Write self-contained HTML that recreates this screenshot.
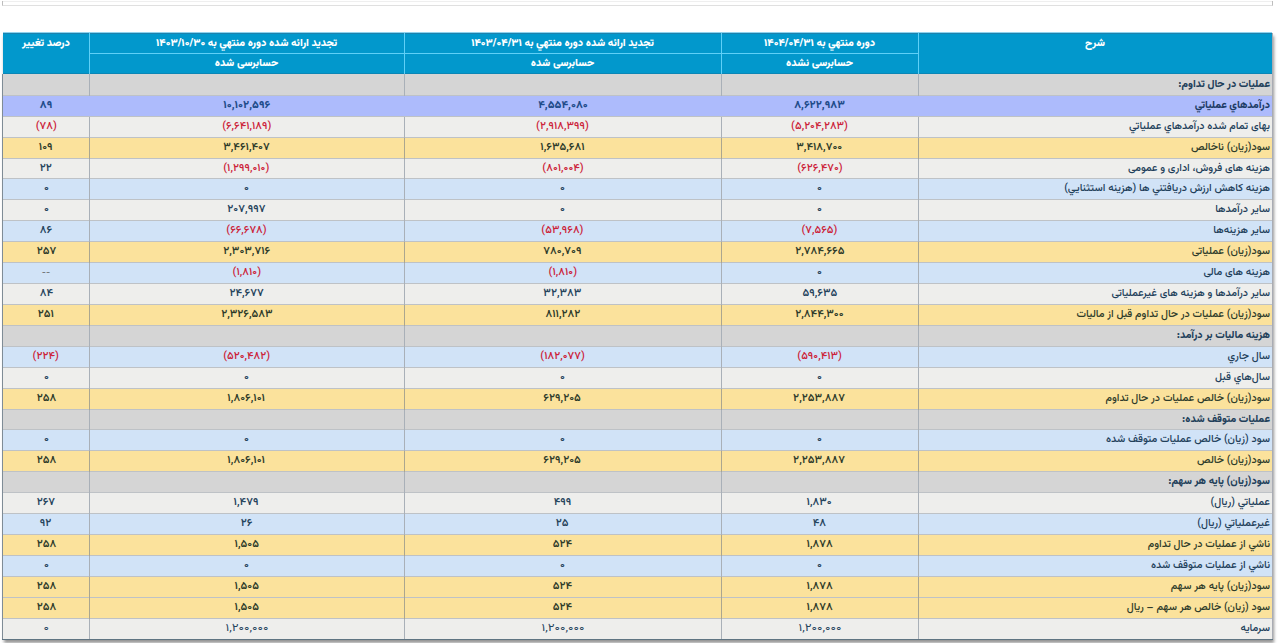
<!DOCTYPE html><html lang="fa" dir="rtl"><head><meta charset="utf-8"><title>صورت سود و زیان</title><style>

*{box-sizing:border-box;margin:0;padding:0}
html,body{width:1280px;height:643px;overflow:hidden;background:#fff}
body{position:relative;font-family:"Vazirmatn","DejaVu Sans",sans-serif;direction:rtl}
.a{position:absolute}
.top1{left:2px;top:1px;width:1271px;height:5px;border-left:1px solid #bdbdbd;border-right:1px solid #bdbdbd;border-bottom:1px solid #e0e0e0}
.top2{left:3px;top:1px;width:1269px;height:1px;background:#efefef}
.shadow{left:3px;top:33px;width:1270px;height:607px;box-shadow:1px 3px 3px rgba(0,0,0,.42)}
.hdrbg{left:3px;top:32px;width:1269px;height:42px;background:#0298cc;border-top:1px solid #8fd3ee}
.htop{left:3px;top:33px;width:1269px;height:1px;background:#1d82ad}
.h{color:#fff;font-weight:900;font-size:10.55px;text-align:center;white-space:nowrap;height:21px;line-height:21px}
.h1{padding-top:1px}
.hl1{background:#5fd0f7}
.r{left:3px;width:1269px}
.c{text-align:center;white-space:nowrap;font-size:10.8px}
.c span{position:relative;top:0}
.lab{text-align:right;padding-right:2px;font-weight:500;font-size:10.7px}
.c.n span{display:inline-block;transform:scaleX(1.035)}
.last .c.n span{transform:scaleX(1.2);font-weight:450}
.c.n span.dash{transform:none;font-weight:400;font-size:9px;color:#555}
.vl{width:1px;background:#aab2ba}
.hs{left:3px;width:1269px;height:1px;background:#bec2c6}
.sec{background:#d5d5d5}
.hl{background:#adbbfc}
.g{background:#eeeeec}
.y{background:#fbe29c}
.b{background:#d1e3f7}
.t{color:#22405a}
.y .t,.y .n{color:#2e3b2a}
.hl .t{color:#1d3c66}
.n{color:#26445c;font-weight:600}
.hl .n{color:#1f4c8a;font-weight:800}
.n.neg{color:#cc2238;font-weight:550}
.lab.bold{font-weight:850;font-size:10.5px}

</style></head><body>
<div class="a top1"></div><div class="a top2"></div>
<div class="a shadow"></div>
<div class="a hdrbg"></div><div class="a htop"></div>
<div class="a h h1" style="left:3px;top:32px;width:86px">درصد تغییر</div>
<div class="a h h1" style="left:89px;top:32px;width:315px">تجدید ارائه شده دوره منتهي به ۱۴۰۳/۱۰/۳۰</div>
<div class="a h" style="left:89px;top:53px;width:315px">حسابرسی شده</div>
<div class="a h h1" style="left:404px;top:32px;width:317px">تجدید ارائه شده دوره منتهي به ۱۴۰۳/۰۴/۳۱</div>
<div class="a h" style="left:404px;top:53px;width:317px">حسابرسی شده</div>
<div class="a h h1" style="left:721px;top:32px;width:197px">دوره منتهي به ۱۴۰۴/۰۴/۳۱</div>
<div class="a h" style="left:721px;top:53px;width:197px">حسابرسی نشده</div>
<div class="a h h1" style="left:918px;top:32px;width:354px">شرح</div>
<div class="a hl1" style="left:89px;top:53px;width:829px;height:1px"></div>
<div class="a" style="left:3px;top:73px;width:1269px;height:1px;background:#0a86b6"></div>
<div class="a hl1" style="left:89px;top:33px;width:1px;height:41px"></div>
<div class="a hl1" style="left:404px;top:33px;width:1px;height:41px"></div>
<div class="a hl1" style="left:721px;top:33px;width:1px;height:41px"></div>
<div class="a hl1" style="left:918px;top:33px;width:1px;height:41px"></div>
<div class="a r sec" style="top:74px;height:21px;line-height:21px">
<div class="a c lab t bold" style="left:916px;width:353px"><span>عملیات در حال تداوم:</span></div>
</div>
<div class="a r hl" style="top:96px;height:20px;line-height:20px">
<div class="a c lab t bold" style="left:916px;width:353px"><span>درآمدهاي عملياتي</span></div>
<div class="a c n" style="left:718px;width:197px"><span>۸,۶۲۲,۹۸۳</span></div>
<div class="a c n" style="left:401px;width:317px"><span>۴,۵۵۴,۰۸۰</span></div>
<div class="a c n" style="left:86px;width:315px"><span>۱۰,۱۰۲,۵۹۶</span></div>
<div class="a c n" style="left:0px;width:86px"><span>۸۹</span></div>
</div>
<div class="a r g" style="top:117px;height:20px;line-height:20px">
<div class="a c lab t" style="left:916px;width:353px"><span>بهای تمام شده درآمدهاي عملياتي</span></div>
<div class="a c n neg" style="left:718px;width:197px"><span>(۵,۲۰۴,۲۸۳)</span></div>
<div class="a c n neg" style="left:401px;width:317px"><span>(۲,۹۱۸,۳۹۹)</span></div>
<div class="a c n neg" style="left:86px;width:315px"><span>(۶,۶۴۱,۱۸۹)</span></div>
<div class="a c n neg" style="left:0px;width:86px"><span>(۷۸)</span></div>
</div>
<div class="a r y" style="top:138px;height:20px;line-height:20px">
<div class="a c lab t" style="left:916px;width:353px"><span>سود(زيان) ناخالص</span></div>
<div class="a c n" style="left:718px;width:197px"><span>۳,۴۱۸,۷۰۰</span></div>
<div class="a c n" style="left:401px;width:317px"><span>۱,۶۳۵,۶۸۱</span></div>
<div class="a c n" style="left:86px;width:315px"><span>۳,۴۶۱,۴۰۷</span></div>
<div class="a c n" style="left:0px;width:86px"><span>۱۰۹</span></div>
</div>
<div class="a r g" style="top:159px;height:19px;line-height:19px">
<div class="a c lab t" style="left:916px;width:353px"><span>هزينه های فروش، اداری و عمومی</span></div>
<div class="a c n neg" style="left:718px;width:197px"><span>(۶۲۶,۴۷۰)</span></div>
<div class="a c n neg" style="left:401px;width:317px"><span>(۸۰۱,۰۰۴)</span></div>
<div class="a c n neg" style="left:86px;width:315px"><span>(۱,۲۹۹,۰۱۰)</span></div>
<div class="a c n" style="left:0px;width:86px"><span>۲۲</span></div>
</div>
<div class="a r b" style="top:179px;height:20px;line-height:20px">
<div class="a c lab t" style="left:916px;width:353px"><span>هزينه کاهش ارزش دريافتني ها (هزينه استثنايي)</span></div>
<div class="a c n" style="left:718px;width:197px"><span>۰</span></div>
<div class="a c n" style="left:401px;width:317px"><span>۰</span></div>
<div class="a c n" style="left:86px;width:315px"><span>۰</span></div>
<div class="a c n" style="left:0px;width:86px"><span>۰</span></div>
</div>
<div class="a r g" style="top:200px;height:20px;line-height:20px">
<div class="a c lab t" style="left:916px;width:353px"><span>ساير درآمدها</span></div>
<div class="a c n" style="left:718px;width:197px"><span>۰</span></div>
<div class="a c n" style="left:401px;width:317px"><span>۰</span></div>
<div class="a c n" style="left:86px;width:315px"><span>۲۰۷,۹۹۷</span></div>
<div class="a c n" style="left:0px;width:86px"><span>۰</span></div>
</div>
<div class="a r b" style="top:221px;height:20px;line-height:20px">
<div class="a c lab t" style="left:916px;width:353px"><span>ساير هزينه‌ها</span></div>
<div class="a c n neg" style="left:718px;width:197px"><span>(۷,۵۶۵)</span></div>
<div class="a c n neg" style="left:401px;width:317px"><span>(۵۳,۹۶۸)</span></div>
<div class="a c n neg" style="left:86px;width:315px"><span>(۶۶,۶۷۸)</span></div>
<div class="a c n" style="left:0px;width:86px"><span>۸۶</span></div>
</div>
<div class="a r y" style="top:242px;height:20px;line-height:20px">
<div class="a c lab t" style="left:916px;width:353px"><span>سود(زيان) عملیاتی</span></div>
<div class="a c n" style="left:718px;width:197px"><span>۲,۷۸۴,۶۶۵</span></div>
<div class="a c n" style="left:401px;width:317px"><span>۷۸۰,۷۰۹</span></div>
<div class="a c n" style="left:86px;width:315px"><span>۲,۳۰۳,۷۱۶</span></div>
<div class="a c n" style="left:0px;width:86px"><span>۲۵۷</span></div>
</div>
<div class="a r b" style="top:263px;height:20px;line-height:20px">
<div class="a c lab t" style="left:916px;width:353px"><span>هزينه های مالی</span></div>
<div class="a c n" style="left:718px;width:197px"><span>۰</span></div>
<div class="a c n neg" style="left:401px;width:317px"><span>(۱,۸۱۰)</span></div>
<div class="a c n neg" style="left:86px;width:315px"><span>(۱,۸۱۰)</span></div>
<div class="a c n" style="left:0px;width:86px"><span class="dash">--</span></div>
</div>
<div class="a r g" style="top:284px;height:20px;line-height:20px">
<div class="a c lab t" style="left:916px;width:353px"><span>ساير درآمدها و هزينه های غيرعملیاتی</span></div>
<div class="a c n" style="left:718px;width:197px"><span>۵۹,۶۳۵</span></div>
<div class="a c n" style="left:401px;width:317px"><span>۳۲,۳۸۳</span></div>
<div class="a c n" style="left:86px;width:315px"><span>۲۴,۶۷۷</span></div>
<div class="a c n" style="left:0px;width:86px"><span>۸۴</span></div>
</div>
<div class="a r y" style="top:305px;height:20px;line-height:20px">
<div class="a c lab t" style="left:916px;width:353px"><span>سود(زيان) عمليات در حال تداوم قبل از ماليات</span></div>
<div class="a c n" style="left:718px;width:197px"><span>۲,۸۴۴,۳۰۰</span></div>
<div class="a c n" style="left:401px;width:317px"><span>۸۱۱,۲۸۲</span></div>
<div class="a c n" style="left:86px;width:315px"><span>۲,۳۲۶,۵۸۳</span></div>
<div class="a c n" style="left:0px;width:86px"><span>۲۵۱</span></div>
</div>
<div class="a r sec" style="top:326px;height:20px;line-height:20px">
<div class="a c lab t bold" style="left:916px;width:353px"><span>هزينه ماليات بر درآمد:</span></div>
</div>
<div class="a r b" style="top:347px;height:20px;line-height:20px">
<div class="a c lab t" style="left:916px;width:353px"><span>سال جاري</span></div>
<div class="a c n neg" style="left:718px;width:197px"><span>(۵۹۰,۴۱۳)</span></div>
<div class="a c n neg" style="left:401px;width:317px"><span>(۱۸۲,۰۷۷)</span></div>
<div class="a c n neg" style="left:86px;width:315px"><span>(۵۲۰,۴۸۲)</span></div>
<div class="a c n neg" style="left:0px;width:86px"><span>(۲۲۴)</span></div>
</div>
<div class="a r g" style="top:368px;height:20px;line-height:20px">
<div class="a c lab t" style="left:916px;width:353px"><span>سال‌هاي قبل</span></div>
<div class="a c n" style="left:718px;width:197px"><span>۰</span></div>
<div class="a c n" style="left:401px;width:317px"><span>۰</span></div>
<div class="a c n" style="left:86px;width:315px"><span>۰</span></div>
<div class="a c n" style="left:0px;width:86px"><span>۰</span></div>
</div>
<div class="a r y" style="top:389px;height:20px;line-height:20px">
<div class="a c lab t" style="left:916px;width:353px"><span>سود(زيان) خالص عمليات در حال تداوم</span></div>
<div class="a c n" style="left:718px;width:197px"><span>۲,۲۵۳,۸۸۷</span></div>
<div class="a c n" style="left:401px;width:317px"><span>۶۲۹,۲۰۵</span></div>
<div class="a c n" style="left:86px;width:315px"><span>۱,۸۰۶,۱۰۱</span></div>
<div class="a c n" style="left:0px;width:86px"><span>۲۵۸</span></div>
</div>
<div class="a r sec" style="top:410px;height:19px;line-height:19px">
<div class="a c lab t bold" style="left:916px;width:353px"><span>عمليات متوقف شده:</span></div>
</div>
<div class="a r b" style="top:430px;height:20px;line-height:20px">
<div class="a c lab t" style="left:916px;width:353px"><span>سود (زيان) خالص عمليات متوقف شده</span></div>
<div class="a c n" style="left:718px;width:197px"><span>۰</span></div>
<div class="a c n" style="left:401px;width:317px"><span>۰</span></div>
<div class="a c n" style="left:86px;width:315px"><span>۰</span></div>
<div class="a c n" style="left:0px;width:86px"><span>۰</span></div>
</div>
<div class="a r y" style="top:451px;height:20px;line-height:20px">
<div class="a c lab t" style="left:916px;width:353px"><span>سود(زيان) خالص</span></div>
<div class="a c n" style="left:718px;width:197px"><span>۲,۲۵۳,۸۸۷</span></div>
<div class="a c n" style="left:401px;width:317px"><span>۶۲۹,۲۰۵</span></div>
<div class="a c n" style="left:86px;width:315px"><span>۱,۸۰۶,۱۰۱</span></div>
<div class="a c n" style="left:0px;width:86px"><span>۲۵۸</span></div>
</div>
<div class="a r sec" style="top:472px;height:20px;line-height:20px">
<div class="a c lab t bold" style="left:916px;width:353px"><span>سود(زيان) پايه هر سهم:</span></div>
</div>
<div class="a r g" style="top:493px;height:20px;line-height:20px">
<div class="a c lab t" style="left:916px;width:353px"><span>عملياتي (ريال)</span></div>
<div class="a c n" style="left:718px;width:197px"><span>۱,۸۳۰</span></div>
<div class="a c n" style="left:401px;width:317px"><span>۴۹۹</span></div>
<div class="a c n" style="left:86px;width:315px"><span>۱,۴۷۹</span></div>
<div class="a c n" style="left:0px;width:86px"><span>۲۶۷</span></div>
</div>
<div class="a r b" style="top:514px;height:20px;line-height:20px">
<div class="a c lab t" style="left:916px;width:353px"><span>غيرعملياتي (ريال)</span></div>
<div class="a c n" style="left:718px;width:197px"><span>۴۸</span></div>
<div class="a c n" style="left:401px;width:317px"><span>۲۵</span></div>
<div class="a c n" style="left:86px;width:315px"><span>۲۶</span></div>
<div class="a c n" style="left:0px;width:86px"><span>۹۲</span></div>
</div>
<div class="a r y" style="top:535px;height:20px;line-height:20px">
<div class="a c lab t" style="left:916px;width:353px"><span>ناشي از عمليات در حال تداوم</span></div>
<div class="a c n" style="left:718px;width:197px"><span>۱,۸۷۸</span></div>
<div class="a c n" style="left:401px;width:317px"><span>۵۲۴</span></div>
<div class="a c n" style="left:86px;width:315px"><span>۱,۵۰۵</span></div>
<div class="a c n" style="left:0px;width:86px"><span>۲۵۸</span></div>
</div>
<div class="a r b" style="top:556px;height:20px;line-height:20px">
<div class="a c lab t" style="left:916px;width:353px"><span>ناشي از عمليات متوقف شده</span></div>
<div class="a c n" style="left:718px;width:197px"><span>۰</span></div>
<div class="a c n" style="left:401px;width:317px"><span>۰</span></div>
<div class="a c n" style="left:86px;width:315px"><span>۰</span></div>
<div class="a c n" style="left:0px;width:86px"><span>۰</span></div>
</div>
<div class="a r y" style="top:577px;height:20px;line-height:20px">
<div class="a c lab t" style="left:916px;width:353px"><span>سود(زيان) پايه هر سهم</span></div>
<div class="a c n" style="left:718px;width:197px"><span>۱,۸۷۸</span></div>
<div class="a c n" style="left:401px;width:317px"><span>۵۲۴</span></div>
<div class="a c n" style="left:86px;width:315px"><span>۱,۵۰۵</span></div>
<div class="a c n" style="left:0px;width:86px"><span>۲۵۸</span></div>
</div>
<div class="a r y" style="top:598px;height:20px;line-height:20px">
<div class="a c lab t" style="left:916px;width:353px"><span>سود (زيان) خالص هر سهم – ريال</span></div>
<div class="a c n" style="left:718px;width:197px"><span>۱,۸۷۸</span></div>
<div class="a c n" style="left:401px;width:317px"><span>۵۲۴</span></div>
<div class="a c n" style="left:86px;width:315px"><span>۱,۵۰۵</span></div>
<div class="a c n" style="left:0px;width:86px"><span>۲۵۸</span></div>
</div>
<div class="a r g last" style="top:619px;height:20px;line-height:20px">
<div class="a c lab t" style="left:916px;width:353px"><span>سرمايه</span></div>
<div class="a c n" style="left:718px;width:197px"><span>۱,۲۰۰,۰۰۰</span></div>
<div class="a c n" style="left:401px;width:317px"><span>۱,۲۰۰,۰۰۰</span></div>
<div class="a c n" style="left:86px;width:315px"><span>۱,۲۰۰,۰۰۰</span></div>
<div class="a c n" style="left:0px;width:86px"><span>۰</span></div>
</div>
<div class="a hs" style="top:95px"></div>
<div class="a hs" style="top:116px"></div>
<div class="a hs" style="top:137px"></div>
<div class="a hs" style="top:158px"></div>
<div class="a hs" style="top:178px"></div>
<div class="a hs" style="top:199px"></div>
<div class="a hs" style="top:220px"></div>
<div class="a hs" style="top:241px"></div>
<div class="a hs" style="top:262px"></div>
<div class="a hs" style="top:283px"></div>
<div class="a hs" style="top:304px"></div>
<div class="a hs" style="top:325px"></div>
<div class="a hs" style="top:346px"></div>
<div class="a hs" style="top:367px"></div>
<div class="a hs" style="top:388px"></div>
<div class="a hs" style="top:409px"></div>
<div class="a hs" style="top:429px"></div>
<div class="a hs" style="top:450px"></div>
<div class="a hs" style="top:471px"></div>
<div class="a hs" style="top:492px"></div>
<div class="a hs" style="top:513px"></div>
<div class="a hs" style="top:534px"></div>
<div class="a hs" style="top:555px"></div>
<div class="a hs" style="top:576px"></div>
<div class="a hs" style="top:597px"></div>
<div class="a hs" style="top:618px"></div>
<div class="a vl" style="left:89px;top:74px;height:22px;background:#a9b0b8"></div>
<div class="a vl" style="left:404px;top:74px;height:22px;background:#a9b0b8"></div>
<div class="a vl" style="left:721px;top:74px;height:22px;background:#a9b0b8"></div>
<div class="a vl" style="left:918px;top:74px;height:22px;background:#a9b0b8"></div>
<div class="a vl" style="left:89px;top:117px;height:21px;background:#a9b0b8"></div>
<div class="a vl" style="left:404px;top:117px;height:21px;background:#a9b0b8"></div>
<div class="a vl" style="left:721px;top:117px;height:21px;background:#a9b0b8"></div>
<div class="a vl" style="left:918px;top:117px;height:21px;background:#a9b0b8"></div>
<div class="a vl" style="left:89px;top:138px;height:21px;background:#aba68f"></div>
<div class="a vl" style="left:404px;top:138px;height:21px;background:#aba68f"></div>
<div class="a vl" style="left:721px;top:138px;height:21px;background:#aba68f"></div>
<div class="a vl" style="left:918px;top:138px;height:21px;background:#aba68f"></div>
<div class="a vl" style="left:89px;top:159px;height:20px;background:#a9b0b8"></div>
<div class="a vl" style="left:404px;top:159px;height:20px;background:#a9b0b8"></div>
<div class="a vl" style="left:721px;top:159px;height:20px;background:#a9b0b8"></div>
<div class="a vl" style="left:918px;top:159px;height:20px;background:#a9b0b8"></div>
<div class="a vl" style="left:89px;top:179px;height:21px;background:#a9b0b8"></div>
<div class="a vl" style="left:404px;top:179px;height:21px;background:#a9b0b8"></div>
<div class="a vl" style="left:721px;top:179px;height:21px;background:#a9b0b8"></div>
<div class="a vl" style="left:918px;top:179px;height:21px;background:#a9b0b8"></div>
<div class="a vl" style="left:89px;top:200px;height:21px;background:#a9b0b8"></div>
<div class="a vl" style="left:404px;top:200px;height:21px;background:#a9b0b8"></div>
<div class="a vl" style="left:721px;top:200px;height:21px;background:#a9b0b8"></div>
<div class="a vl" style="left:918px;top:200px;height:21px;background:#a9b0b8"></div>
<div class="a vl" style="left:89px;top:221px;height:21px;background:#a9b0b8"></div>
<div class="a vl" style="left:404px;top:221px;height:21px;background:#a9b0b8"></div>
<div class="a vl" style="left:721px;top:221px;height:21px;background:#a9b0b8"></div>
<div class="a vl" style="left:918px;top:221px;height:21px;background:#a9b0b8"></div>
<div class="a vl" style="left:89px;top:242px;height:21px;background:#aba68f"></div>
<div class="a vl" style="left:404px;top:242px;height:21px;background:#aba68f"></div>
<div class="a vl" style="left:721px;top:242px;height:21px;background:#aba68f"></div>
<div class="a vl" style="left:918px;top:242px;height:21px;background:#aba68f"></div>
<div class="a vl" style="left:89px;top:263px;height:21px;background:#a9b0b8"></div>
<div class="a vl" style="left:404px;top:263px;height:21px;background:#a9b0b8"></div>
<div class="a vl" style="left:721px;top:263px;height:21px;background:#a9b0b8"></div>
<div class="a vl" style="left:918px;top:263px;height:21px;background:#a9b0b8"></div>
<div class="a vl" style="left:89px;top:284px;height:21px;background:#a9b0b8"></div>
<div class="a vl" style="left:404px;top:284px;height:21px;background:#a9b0b8"></div>
<div class="a vl" style="left:721px;top:284px;height:21px;background:#a9b0b8"></div>
<div class="a vl" style="left:918px;top:284px;height:21px;background:#a9b0b8"></div>
<div class="a vl" style="left:89px;top:305px;height:21px;background:#aba68f"></div>
<div class="a vl" style="left:404px;top:305px;height:21px;background:#aba68f"></div>
<div class="a vl" style="left:721px;top:305px;height:21px;background:#aba68f"></div>
<div class="a vl" style="left:918px;top:305px;height:21px;background:#aba68f"></div>
<div class="a vl" style="left:89px;top:326px;height:21px;background:#a9b0b8"></div>
<div class="a vl" style="left:404px;top:326px;height:21px;background:#a9b0b8"></div>
<div class="a vl" style="left:721px;top:326px;height:21px;background:#a9b0b8"></div>
<div class="a vl" style="left:918px;top:326px;height:21px;background:#a9b0b8"></div>
<div class="a vl" style="left:89px;top:347px;height:21px;background:#a9b0b8"></div>
<div class="a vl" style="left:404px;top:347px;height:21px;background:#a9b0b8"></div>
<div class="a vl" style="left:721px;top:347px;height:21px;background:#a9b0b8"></div>
<div class="a vl" style="left:918px;top:347px;height:21px;background:#a9b0b8"></div>
<div class="a vl" style="left:89px;top:368px;height:21px;background:#a9b0b8"></div>
<div class="a vl" style="left:404px;top:368px;height:21px;background:#a9b0b8"></div>
<div class="a vl" style="left:721px;top:368px;height:21px;background:#a9b0b8"></div>
<div class="a vl" style="left:918px;top:368px;height:21px;background:#a9b0b8"></div>
<div class="a vl" style="left:89px;top:389px;height:21px;background:#aba68f"></div>
<div class="a vl" style="left:404px;top:389px;height:21px;background:#aba68f"></div>
<div class="a vl" style="left:721px;top:389px;height:21px;background:#aba68f"></div>
<div class="a vl" style="left:918px;top:389px;height:21px;background:#aba68f"></div>
<div class="a vl" style="left:89px;top:410px;height:20px;background:#a9b0b8"></div>
<div class="a vl" style="left:404px;top:410px;height:20px;background:#a9b0b8"></div>
<div class="a vl" style="left:721px;top:410px;height:20px;background:#a9b0b8"></div>
<div class="a vl" style="left:918px;top:410px;height:20px;background:#a9b0b8"></div>
<div class="a vl" style="left:89px;top:430px;height:21px;background:#a9b0b8"></div>
<div class="a vl" style="left:404px;top:430px;height:21px;background:#a9b0b8"></div>
<div class="a vl" style="left:721px;top:430px;height:21px;background:#a9b0b8"></div>
<div class="a vl" style="left:918px;top:430px;height:21px;background:#a9b0b8"></div>
<div class="a vl" style="left:89px;top:451px;height:21px;background:#aba68f"></div>
<div class="a vl" style="left:404px;top:451px;height:21px;background:#aba68f"></div>
<div class="a vl" style="left:721px;top:451px;height:21px;background:#aba68f"></div>
<div class="a vl" style="left:918px;top:451px;height:21px;background:#aba68f"></div>
<div class="a vl" style="left:89px;top:472px;height:21px;background:#a9b0b8"></div>
<div class="a vl" style="left:404px;top:472px;height:21px;background:#a9b0b8"></div>
<div class="a vl" style="left:721px;top:472px;height:21px;background:#a9b0b8"></div>
<div class="a vl" style="left:918px;top:472px;height:21px;background:#a9b0b8"></div>
<div class="a vl" style="left:89px;top:493px;height:21px;background:#a9b0b8"></div>
<div class="a vl" style="left:404px;top:493px;height:21px;background:#a9b0b8"></div>
<div class="a vl" style="left:721px;top:493px;height:21px;background:#a9b0b8"></div>
<div class="a vl" style="left:918px;top:493px;height:21px;background:#a9b0b8"></div>
<div class="a vl" style="left:89px;top:514px;height:21px;background:#a9b0b8"></div>
<div class="a vl" style="left:404px;top:514px;height:21px;background:#a9b0b8"></div>
<div class="a vl" style="left:721px;top:514px;height:21px;background:#a9b0b8"></div>
<div class="a vl" style="left:918px;top:514px;height:21px;background:#a9b0b8"></div>
<div class="a vl" style="left:89px;top:535px;height:21px;background:#aba68f"></div>
<div class="a vl" style="left:404px;top:535px;height:21px;background:#aba68f"></div>
<div class="a vl" style="left:721px;top:535px;height:21px;background:#aba68f"></div>
<div class="a vl" style="left:918px;top:535px;height:21px;background:#aba68f"></div>
<div class="a vl" style="left:89px;top:556px;height:21px;background:#a9b0b8"></div>
<div class="a vl" style="left:404px;top:556px;height:21px;background:#a9b0b8"></div>
<div class="a vl" style="left:721px;top:556px;height:21px;background:#a9b0b8"></div>
<div class="a vl" style="left:918px;top:556px;height:21px;background:#a9b0b8"></div>
<div class="a vl" style="left:89px;top:577px;height:21px;background:#aba68f"></div>
<div class="a vl" style="left:404px;top:577px;height:21px;background:#aba68f"></div>
<div class="a vl" style="left:721px;top:577px;height:21px;background:#aba68f"></div>
<div class="a vl" style="left:918px;top:577px;height:21px;background:#aba68f"></div>
<div class="a vl" style="left:89px;top:598px;height:21px;background:#aba68f"></div>
<div class="a vl" style="left:404px;top:598px;height:21px;background:#aba68f"></div>
<div class="a vl" style="left:721px;top:598px;height:21px;background:#aba68f"></div>
<div class="a vl" style="left:918px;top:598px;height:21px;background:#aba68f"></div>
<div class="a vl" style="left:89px;top:619px;height:21px;background:#a9b0b8"></div>
<div class="a vl" style="left:404px;top:619px;height:21px;background:#a9b0b8"></div>
<div class="a vl" style="left:721px;top:619px;height:21px;background:#a9b0b8"></div>
<div class="a vl" style="left:918px;top:619px;height:21px;background:#a9b0b8"></div>
<div class="a" style="left:2px;top:74px;width:1px;height:566px;background:#7f8c96"></div>
<div class="a" style="left:1272px;top:33px;width:1px;height:607px;background:#a9acb4"></div>
<div class="a" style="left:2px;top:639px;width:1271px;height:1px;background:#5f7482"></div>
</body></html>
